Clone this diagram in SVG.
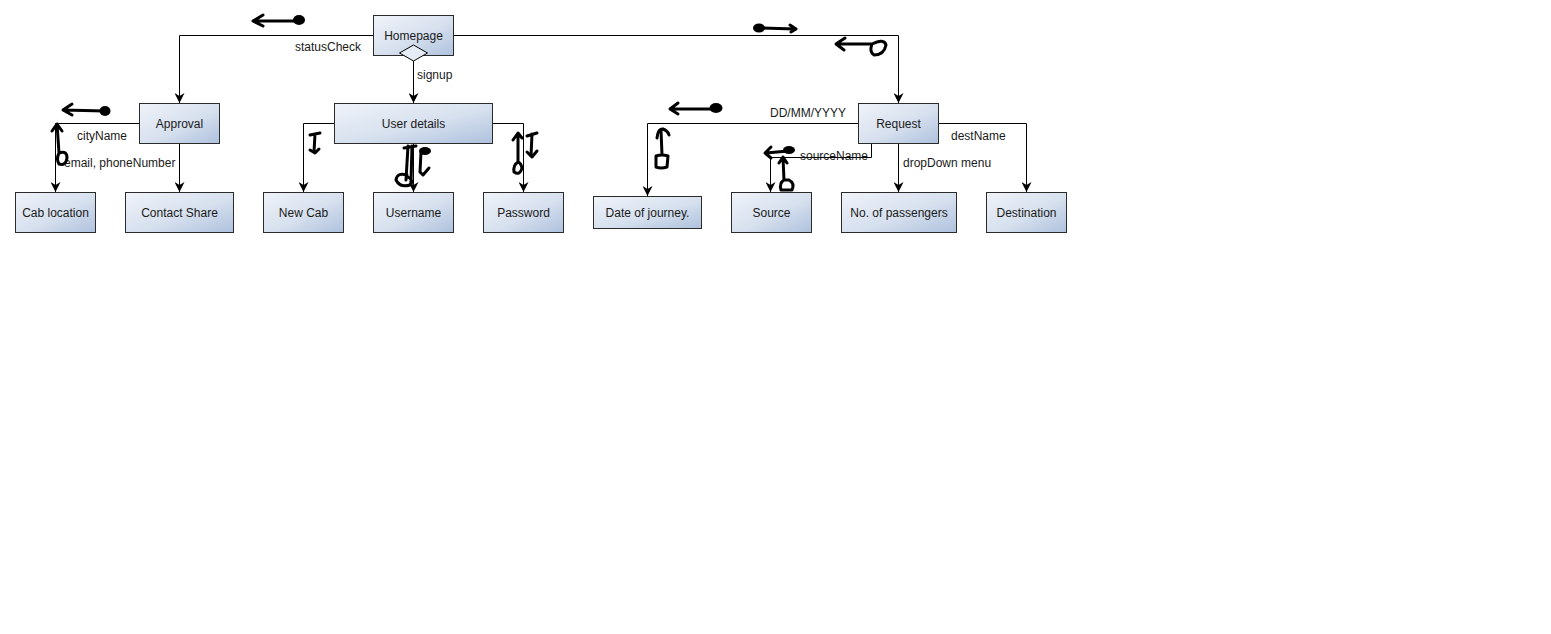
<svg xmlns="http://www.w3.org/2000/svg" width="1551" height="634" viewBox="0 0 1551 634">
  <style>
    .node rect { stroke: #2b2b2b; stroke-width: 1; fill: url(#boxFill); }
    .label { font-family: "Liberation Sans", Arial, sans-serif; font-size: 12px; fill: #1a1a1a; }
    .mid { text-anchor: middle; }
    .edge { fill: none; stroke: #000; stroke-width: 1; marker-end: url(#arrow); }
    .ink { fill: none; stroke: #000; stroke-width: 3; stroke-linecap: round; stroke-linejoin: round; }
    .blob { fill: #000; }
  </style>
  <defs>
    <linearGradient id="boxFill" x1="0" y1="0" x2="1" y2="1">
      <stop offset="0" stop-color="#f0f3f9"/>
      <stop offset="0.55" stop-color="#d6e0ee"/>
      <stop offset="1" stop-color="#aec1dd"/>
    </linearGradient>
    <marker id="arrow" viewBox="0 0 10 10" refX="10" refY="5" markerWidth="10" markerHeight="10" markerUnits="userSpaceOnUse" orient="auto">
      <path d="M0,0 L10,5 L0,10 L3,5 Z" fill="#000"/>
    </marker>
  </defs>
  <rect width="1551" height="634" fill="#fff"/>

  <!-- connectors -->
  <g id="connectors">
    <path class="edge" d="M373,35.5 H179.5 V103"/>
    <path class="edge" d="M453,35.5 H898.5 V103"/>
    <path class="edge" d="M413.5,61 V103"/>
    <path class="edge" d="M139,123.5 H55.5 V192"/>
    <path class="edge" d="M179.5,143 V192"/>
    <path class="edge" d="M334,123.5 H303.5 V192"/>
    <path class="edge" d="M413.5,143 V192"/>
    <path class="edge" d="M492,123.5 H523.5 V192"/>
    <path class="edge" d="M858,123.5 H647.5 V196"/>
    <path class="edge" d="M871.5,143 V157.5 H770.5 V192"/>
    <path class="edge" d="M898.5,143 V192"/>
    <path class="edge" d="M938,123.5 H1026.5 V192"/>

    <text class="label" x="361" y="51" text-anchor="end">statusCheck</text>
    <text class="label" x="417" y="79">signup</text>
    <text class="label" x="77" y="140">cityName</text>
    <text class="label" x="64" y="167">email, phoneNumber</text>
    <text class="label" x="770" y="117">DD/MM/YYYY</text>
    <text class="label" x="951" y="140">destName</text>
    <text class="label" x="800" y="160">sourceName</text>
    <text class="label" x="903" y="167">dropDown menu</text>
  </g>

  <!-- nodes -->
  <g id="homepage" class="node">
    <rect x="373.5" y="15.5" width="80" height="40"/>
    <text class="label mid" x="413.5" y="40">Homepage</text>
    <!-- aggregation diamond on the bottom edge -->
    <path d="M413.5,45 L427.5,53 L413.5,61 L399.5,53 Z" fill="#e6ecf5" stroke="#000" stroke-width="1"/>
  </g>
  <g id="approval" class="node">
    <rect x="139.5" y="103.5" width="80" height="40"/>
    <text class="label mid" x="179.5" y="128">Approval</text>
  </g>
  <g id="user-details" class="node">
    <rect x="334.5" y="103.5" width="158" height="40"/>
    <text class="label mid" x="413.5" y="128">User details</text>
  </g>
  <g id="request" class="node">
    <rect x="858.5" y="103.5" width="80" height="40"/>
    <text class="label mid" x="898.5" y="128">Request</text>
  </g>
  <g id="cab-location" class="node">
    <rect x="15.5" y="192.5" width="80" height="40"/>
    <text class="label mid" x="55.5" y="217">Cab location</text>
  </g>
  <g id="contact-share" class="node">
    <rect x="125.5" y="192.5" width="108" height="40"/>
    <text class="label mid" x="179.5" y="217">Contact Share</text>
  </g>
  <g id="new-cab" class="node">
    <rect x="263.5" y="192.5" width="80" height="40"/>
    <text class="label mid" x="303.5" y="217">New Cab</text>
  </g>
  <g id="username" class="node">
    <rect x="373.5" y="192.5" width="80" height="40"/>
    <text class="label mid" x="413.5" y="217">Username</text>
  </g>
  <g id="password" class="node">
    <rect x="483.5" y="192.5" width="80" height="40"/>
    <text class="label mid" x="523.5" y="217">Password</text>
  </g>
  <g id="date-of-journey" class="node">
    <rect x="593.5" y="196.5" width="108" height="32"/>
    <text class="label mid" x="647.5" y="217">Date of journey.</text>
  </g>
  <g id="source" class="node">
    <rect x="731.5" y="192.5" width="80" height="40"/>
    <text class="label mid" x="771.5" y="217">Source</text>
  </g>
  <g id="passengers" class="node">
    <rect x="841.5" y="192.5" width="115" height="40"/>
    <text class="label mid" x="899" y="217">No. of passengers</text>
  </g>
  <g id="destination" class="node">
    <rect x="986.5" y="192.5" width="80" height="40"/>
    <text class="label mid" x="1026.5" y="217">Destination</text>
  </g>

  <!-- freehand pen marks -->
  <g id="pen-marks">
    <path class="ink" d="M263,15 L253,21 L263,26 M254,21 L296,21"/>
    <ellipse class="blob" cx="299" cy="20" rx="6" ry="5"/>

    <path class="ink" d="M760,28 L795,29 M790,25 L796,29 L791,32"/>
    <ellipse class="blob" cx="759" cy="28" rx="6" ry="4.5"/>

    <path class="ink" d="M845,38 L836,44 L844,50 M837,44 L872,44 M872,44 Q884,38 886,45 Q884,55 874,55 Q869,52 872,44"/>

    <path class="ink" d="M72,104 L63,110 L72,115 M64,110 L104,111"/>
    <ellipse class="blob" cx="105" cy="111" rx="5.5" ry="5"/>

    <path class="ink" d="M52,131 L57,124 L62,131 M57,124 L59,153 M59,153 Q67,150 67,158 Q66,166 59,164 Q56,159 59,153"/>

    <path class="ink" d="M310,135 L320,133 M315,134 L314,152 M310,150 L315,153 L319,149"/>

    <path class="ink" d="M408,146 L406,180 M412,146 L411,182 M404,148 L416,146 M407,175 Q397,172 396,180 Q400,188 410,185 Q415,180 406,176"/>
    <path class="ink" d="M421,152 L420,172 L423,175 L429,168"/>
    <ellipse class="blob" cx="425" cy="151" rx="6" ry="4"/>

    <path class="ink" d="M513,140 L518,133 L522,138 M518,134 L518,162 M518,162 Q513,165 514,172 Q520,176 522,168 Q521,163 518,162"/>
    <path class="ink" d="M527,136 L537,133 M532,134 L531,156 M527,152 L532,157 L537,151"/>

    <path class="ink" d="M678,103 L670,109 L678,114 M671,109 L713,109"/>
    <ellipse class="blob" cx="716" cy="108" rx="6.5" ry="5"/>

    <path class="ink" d="M657,138 Q658,128 663,129 Q668,131 669,135 M661,130 L662,155 M656,156 Q662,154 668,156 L667,167 Q661,169 656,167 Z"/>

    <path class="ink" d="M771,147 L765,153 L771,158 M766,153 L788,151"/>
    <ellipse class="blob" cx="789" cy="150" rx="6" ry="4"/>
    <path class="ink" d="M779,163 L783,157 L787,163 M783,158 L784,180 M784,180 Q779,183 781,190 L792,190 Q795,183 789,180 Z"/>
  </g>
</svg>
